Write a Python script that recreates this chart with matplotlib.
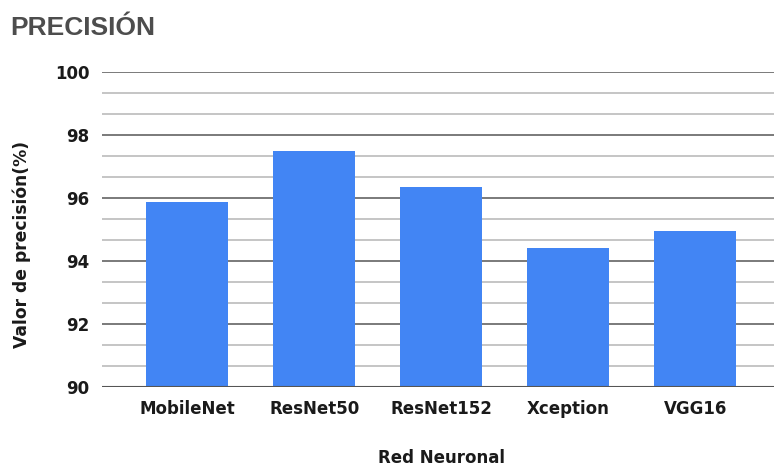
import matplotlib
matplotlib.use("Agg")
import matplotlib.pyplot as plt
from matplotlib.ticker import AutoMinorLocator

categories = ["MobileNet", "ResNet50", "ResNet152", "Xception", "VGG16"]
values = [95.88, 97.5, 96.36, 94.4, 94.96]
y_ticks = [90, 92, 94, 96, 98, 100]

fig = plt.figure(figsize=(7.75, 4.67), dpi=100)
ax = fig.add_axes([102/775, 1-387/467, (774-102)/775, (387-72)/467])

x = list(range(len(categories)))
ax.bar(x, [v - 90 for v in values], bottom=90, width=0.645, color="#4285F4", zorder=3)

ax.set_ylim(90, 100)
ax.set_xlim(-0.673, 4.62)
ax.set_yticks(y_ticks)
ax.yaxis.set_minor_locator(AutoMinorLocator(3))
ax.set_xticks(x)
ax.set_xticklabels(categories)

ax.grid(axis="y", which="major", color="#6f6f6f", linewidth=1.3, zorder=0)
ax.grid(axis="y", which="minor", color="#c0c0c0", linewidth=1.3, zorder=0)
ax.axhline(90, color="#555555", linewidth=1.5, zorder=4)

for s in ax.spines.values():
    s.set_visible(False)
ax.tick_params(axis="both", which="both", length=0)
ax.tick_params(axis="y", pad=9)
ax.tick_params(axis="x", pad=9)

for lab in ax.get_yticklabels() + ax.get_xticklabels():
    lab.set_fontfamily("DejaVu Sans")
    lab.set_fontweight("bold")
    lab.set_fontsize(12)
    lab.set_color("#1a1a1a")

fig.text(22/775, 1-244/467, "Valor de precisión(%)", rotation=90, ha="center", va="center",
         fontsize=12.3, fontweight="bold", family="DejaVu Sans", color="#1a1a1a")
fig.text(441/775, 1-458/467, "Red Neuronal", ha="center", va="center",
         fontsize=12, fontweight="bold", family="DejaVu Sans", color="#1a1a1a")
fig.text(10/775, 1-28/467, "PRECISIÓN", ha="left", va="center",
         fontsize=19, fontweight="bold", family="Liberation Sans", color="#4d4d4d")

fig.savefig("out.png", dpi=100)
